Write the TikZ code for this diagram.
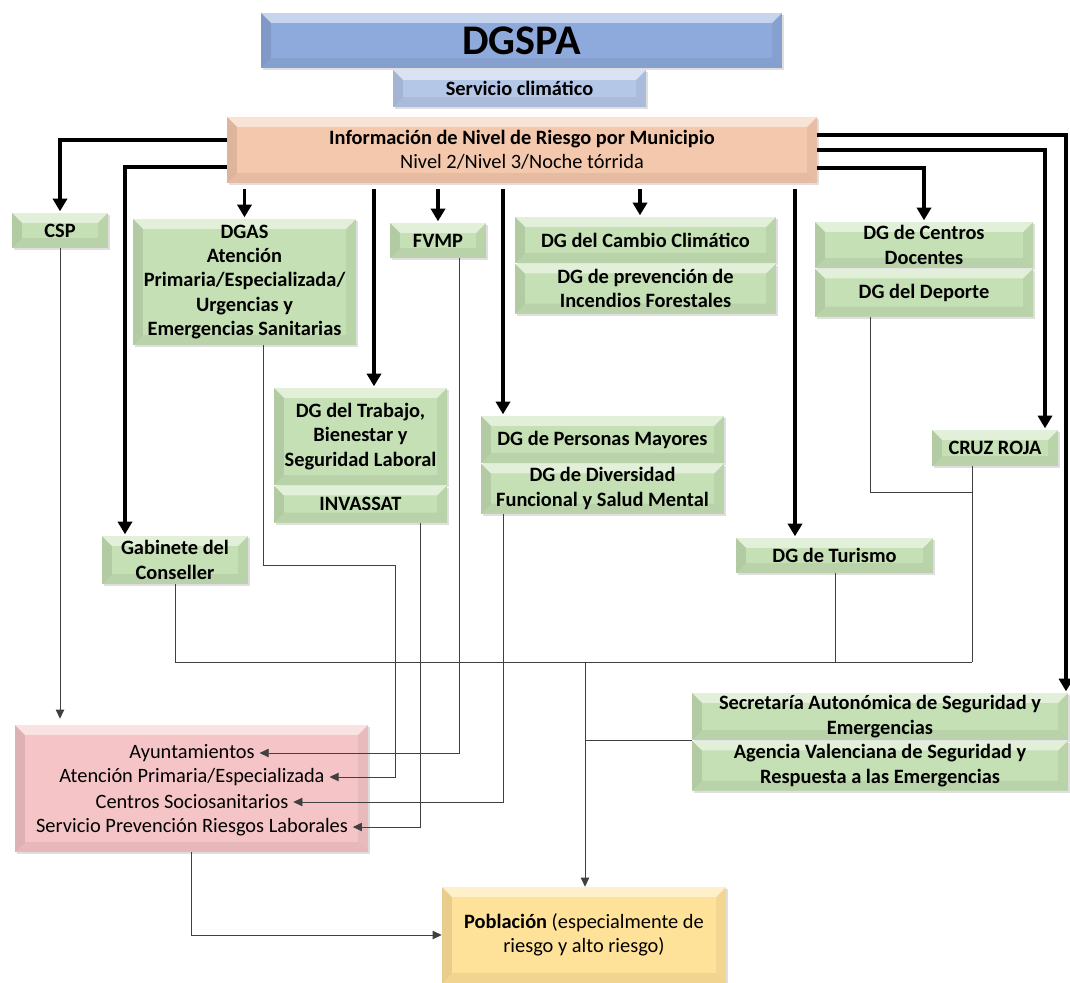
\documentclass[tikz,border=0pt]{standalone}
\usepackage{fontspec}
\setmainfont{Carlito}
\usetikzlibrary{positioning}
\usetikzlibrary{arrows.meta}
\usetikzlibrary{shadows}

\definecolor{dgblue}{RGB}{142,169,219}
\definecolor{servblue}{RGB}{180,199,231}
\definecolor{infopeach}{RGB}{244,200,172}
\definecolor{dggreen}{RGB}{197,224,180}
\definecolor{ayrose}{RGB}{245,196,198}
\definecolor{pobyellow}{RGB}{255,226,153}

\begin{document}
\begin{tikzpicture}
	[x=0.025cm, y=-0.025cm,
	wh/.style 2 args={minimum width=#1*0.025cm, minimum height=#2*0.025cm},
	bevel/.style={path picture={
		\fill[white, opacity=0.5] (path picture bounding box.north west) -- ++(7pt,-7pt) -- ([xshift=-7pt,yshift=-7pt]path picture bounding box.north east) -- (path picture bounding box.north east) -- cycle;
		\fill[black, opacity=0.09] (path picture bounding box.north west) -- ++(7pt,-7pt) -- ([xshift=7pt,yshift=7pt]path picture bounding box.south west) -- (path picture bounding box.south west) -- cycle;
		\fill[black, opacity=0.05] (path picture bounding box.north east) -- ++(-7pt,-7pt) -- ([xshift=-7pt,yshift=7pt]path picture bounding box.south east) -- (path picture bounding box.south east) -- cycle;
		\fill[black, opacity=0.06] (path picture bounding box.south west) -- ++(7pt,7pt) -- ([xshift=-7pt,yshift=7pt]path picture bounding box.south east) -- (path picture bounding box.south east) -- cycle;}},
	box/.style={bevel, align=center, inner sep=1pt,
		drop shadow={shadow xshift=1.2pt, shadow yshift=-1.6pt, opacity=0.25},
		font=\fontsize{14.5}{17.4}\selectfont\bfseries},
	dgbox/.style={box, fill=dggreen},
	dnarrow/.style={line width=2.8pt, -{Triangle[width=10pt,length=9pt]}, shorten <=1.5mm, shorten >=1pt},
	sidearrow/.style={line width=2.8pt, -{Triangle[width=10pt,length=9pt]}, shorten >=1pt},
	thinline/.style={line width=0.6pt, draw=black!75},
	thinarrow/.style={thinline, -{Triangle[width=6pt,length=6.5pt]}}]

	\fill[white] (0,0) rectangle (1070,983);
	\useasboundingbox (0,0) rectangle (1070,983);

	% nodes
	\node[box, fill=dgblue, wh={521}{55}, font=\fontsize{30}{34}\selectfont\bfseries] (dgspa) at (521.5,40.5) {DGSPA};
	\node[box, fill=servblue, wh={253}{37}] (servicio) at (519.5,88.5) {Servicio climático};
	\node[box, fill=infopeach, wh={590}{66}] (info) at (522,150) {Información de Nivel de Riesgo por Municipio\\ \mdseries Nivel 2/Nivel 3/Noche tórrida};

	\node[dgbox, wh={96}{35}] (csp) at (60,230.5) {CSP};
	\node[dgbox, wh={223}{126}] (dgas) at (244.5,282) {DGAS\\Atención\\Primaria/Especializada/\\Urgencias y\\Emergencias Sanitarias};
	\node[dgbox, wh={96}{35}] (fvmp) at (438,240.5) {FVMP};
	\node[dgbox, wh={261}{46}] (cambio) at (645.5,240) {DG del Cambio Climático};
	\node[dgbox, wh={261}{50}, below=0pt of cambio] (incendios) {DG de prevención de\\Incendios Forestales};
	\node[dgbox, wh={218}{46}] (centros) at (924,245) {DG de Centros\\Docentes};
	\node[dgbox, wh={218}{48}, below=0pt of centros] (deporte) {DG del Deporte};

	\node[dgbox, wh={173}{97}] (trabajo) at (360.5,436.5) {DG del Trabajo,\\Bienestar y\\Seguridad Laboral};
	\node[dgbox, wh={173}{37}, below=0pt of trabajo] (invassat) {INVASSAT};
	\node[dgbox, wh={243}{47}] (mayores) at (602.5,439.5) {DG de Personas Mayores};
	\node[dgbox, wh={243}{50}, below=0pt of mayores] (diversidad) {DG de Diversidad\\Funcional y Salud Mental};
	\node[dgbox, wh={126}{36}] (cruz) at (995,448) {CRUZ ROJA};
	\node[dgbox, wh={146}{48}] (gabinete) at (175,560) {Gabinete del\\Conseller};
	\node[dgbox, wh={197}{35}] (turismo) at (834.5,555.5) {DG de Turismo};

	\node[dgbox, wh={376}{47}] (secretaria) at (880,716.5) {Secretaría Autonómica de Seguridad y\\Emergencias};
	\node[dgbox, wh={376}{50}, below=0pt of secretaria] (agencia) {Agencia Valenciana de Seguridad y\\Respuesta a las Emergencias};

	\node[box, fill=ayrose, wh={353}{127}] (munic) at (191.5,788.5) {};
	\node[font=\fontsize{14.5}{16}\selectfont] (ayto) at (192,753) {Ayuntamientos};
	\node[font=\fontsize{14.5}{16}\selectfont] (atp) at (192,777) {Atención Primaria/Especializada};
	\node[font=\fontsize{14.5}{16}\selectfont] (css) at (192,802) {Centros Sociosanitarios};
	\node[font=\fontsize{14.5}{16}\selectfont] (prl) at (192,827) {Servicio Prevención Riesgos Laborales};

	\node[box, fill=pobyellow, wh={284}{96}, font=\fontsize{14.5}{17.4}\selectfont] (poblacion) at (584,935) {\textbf{Población} (especialmente de\\riesgo y alto riesgo)};

	% thick arrows
	\draw[sidearrow] (info.west |- 0,140) -| (csp.north);
	\draw[sidearrow] (info.west |- 0,167) -| (125,0 |- gabinete.north);
	\draw[dnarrow] (dgas.north |- info.south) -- (dgas.north);
	\draw[dnarrow] (374,0 |- info.south) -- (374,0 |- trabajo.north);
	\draw[dnarrow] (fvmp.north |- info.south) -- (fvmp.north);
	\draw[dnarrow] (503,0 |- info.south) -- (503,0 |- mayores.north);
	\draw[dnarrow] (640,0 |- info.south) -- (640,0 |- cambio.north);
	\draw[dnarrow] (795,0 |- info.south) -- (795,0 |- turismo.north);
	\draw[sidearrow] (info.east |- 0,168) -| (centros.north);
	\draw[sidearrow] (info.east |- 0,150) -| (1045,0 |- cruz.north);
	\draw[sidearrow] (info.east |- 0,135) -| (1066,0 |- secretaria.north);

	% thin arrows
	\draw[thinarrow, shorten >=1.5mm] (csp.south) -- (csp.south |- munic.north);
	\draw[thinarrow] (263,0 |- dgas.south) |- (395,565) |- (atp.east);
	\draw[thinarrow] (459,0 |- fvmp.south) |- (ayto.east);
	\draw[thinarrow] (503,0 |- diversidad.south) |- (css.east);
	\draw[thinarrow] (420,0 |- invassat.south) |- (prl.east);

	\coordinate (junc) at (585,662);
	\coordinate (cruzjoin) at (972,662);
	\draw[thinline] (gabinete.south) |- (cruzjoin);
	\draw[thinline] (972,0 |- cruz.south) -- (cruzjoin);
	\draw[thinline] (870,0 |- deporte.south) |- (972,492);
	\draw[thinline] (835,0 |- turismo.south) -- (835,0 |- junc);
	\draw[thinline] (secretaria.south west) -- (secretaria.south west -| junc);
	\draw[thinarrow] (junc) -- (junc |- poblacion.north);
	\draw[thinarrow] (munic.south) |- (poblacion.west);
\end{tikzpicture}
\end{document}
